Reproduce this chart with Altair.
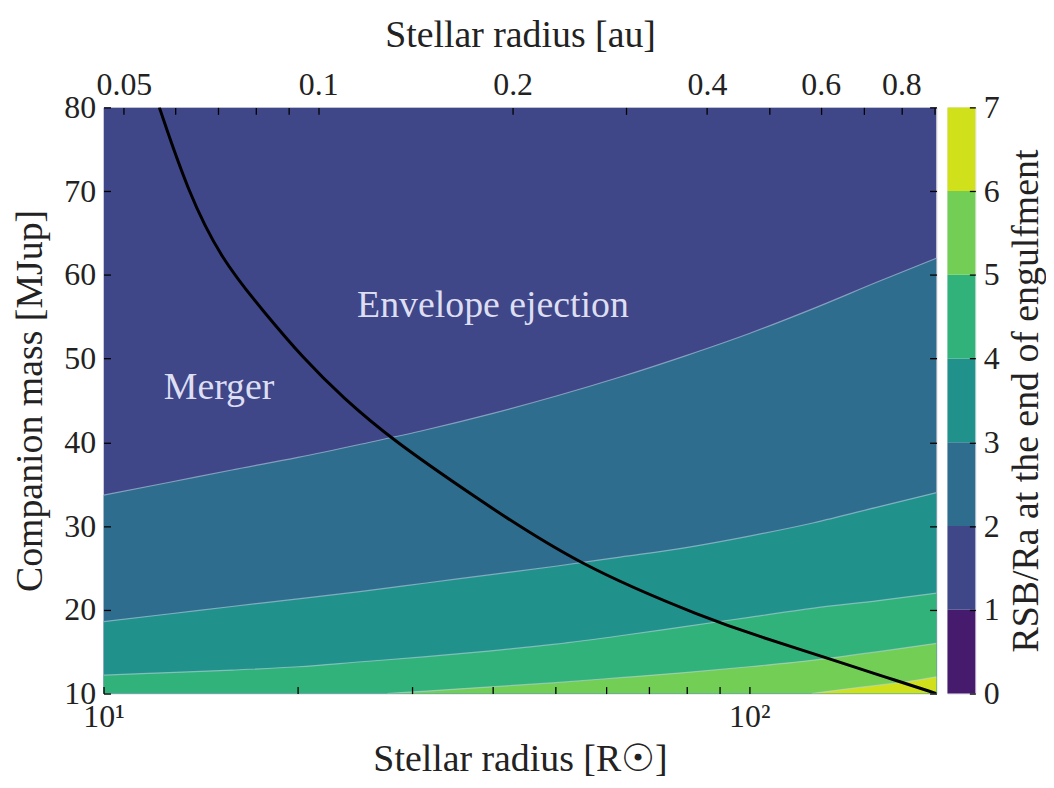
import altair as alt
import pandas as pd

AU_IN_RSUN = 215.032
X_DOMAIN = [10, 195]
Y_DOMAIN = [10, 80]
FONT = "Liberation Serif"
TXT = "#222222"

level_colors = ["#461a6c", "#3f4788", "#2f6d8e", "#21918c", "#31b27b", "#72ce55", "#d0e11c"]
levels_lo = [0, 1, 2, 3, 4, 5, 6]
levels_hi = [1, 2, 3, 4, 5, 6, 7]

# contour boundaries (R in R_sun, M in M_Jup)
top_R = [10, 195]
top_M = [80, 80]

b2_R = [10, 12.6, 15.8, 20, 25.1, 31.6, 39.8, 50.1, 63.1, 79.4, 100, 125.9, 158.5, 195]
b2_M = [33.7, 35.2, 36.7, 38.2, 39.8, 41.5, 43.4, 45.5, 47.8, 50.3, 53.0, 56.0, 59.2, 62.0]

b3_R = [10, 12.6, 15.8, 20, 25.1, 31.6, 39.8, 50.1, 63.1, 79.4, 100, 125.9, 158.5, 195]
b3_M = [18.6, 19.5, 20.4, 21.3, 22.2, 23.2, 24.2, 25.2, 26.3, 27.4, 28.8, 30.4, 32.3, 34.0]

b4_R = [10, 12.6, 15.8, 20, 25.1, 31.6, 39.8, 50.1, 63.1, 79.4, 100, 125.9, 158.5, 195]
b4_M = [12.2, 12.5, 12.8, 13.2, 13.8, 14.4, 15.1, 15.9, 16.9, 18.0, 19.1, 20.2, 21.1, 22.0]

b5_R = [27.5, 31.6, 39.8, 50.1, 63.1, 79.4, 100, 125.9, 158.5, 195]
b5_M = [10.0, 10.3, 10.8, 11.3, 11.9, 12.5, 13.2, 14.0, 15.0, 16.0]

b6_R = [125, 140, 158.5, 178, 195]
b6_M = [10.0, 10.5, 11.0, 11.5, 12.0]

curve_R = [12.2, 13.5, 15.2, 17.7, 20.4, 23.5, 28.0, 37.2, 54.3, 87, 102, 140, 162, 195]
curve_M = [80, 70.0, 61.9, 55.6, 50.0, 45.3, 40.3, 33.7, 25.3, 18.8, 17.0, 13.6, 12.0, 10.0]

label_text = ["Merger", "Envelope ejection"]
label_R = [15.1, 40.1]
label_M = [46.5, 56.3]

y_ticks = [10, 20, 30, 40, 50, 60, 70, 80]
x_ticks = [10, 20, 30, 40, 50, 60, 70, 80, 90, 100]
au_ticks = [0.05, 0.06, 0.07, 0.08, 0.09, 0.1, 0.2, 0.3, 0.4, 0.5, 0.6, 0.7, 0.8, 0.9]
au_labeled = [0.05, 0.1, 0.2, 0.4, 0.6, 0.8]
cb_ticks = [0, 1, 2, 3, 4, 5, 6, 7]

W, H = 837, 589

xscale = alt.Scale(type="log", domain=X_DOMAIN, nice=False)
yscale = alt.Scale(domain=Y_DOMAIN, nice=False, zero=False)
auscale = alt.Scale(type="log", domain=[X_DOMAIN[0] / AU_IN_RSUN, X_DOMAIN[1] / AU_IN_RSUN], nice=False)

common_axis = dict(grid=False, domain=False, zindex=1, tickColor="black", tickWidth=1.3,
                   labelFont=FONT, titleFont=FONT, labelColor=TXT, titleColor=TXT,
                   labelFontSize=32, titleFontSize=38, titleFontWeight="normal",
                   labelOverlap=False, labelFlush=False)

bottom_axis = alt.Axis(orient="bottom", values=x_ticks, offset=-7, tickSize=7, labelPadding=8,
                       labelExpr="datum.value == 10 ? '10¹' : (datum.value == 100 ? '10²' : '')",
                       title="Stellar radius [R☉]", titlePadding=8, **common_axis)
left_axis = alt.Axis(orient="left", values=y_ticks, offset=-7, tickSize=7, labelPadding=8,
                     title="Companion mass [MJup]", titlePadding=14, **common_axis)
top_axis = alt.Axis(orient="top", values=au_ticks, offset=-7, tickSize=7, labelPadding=6,
                    labelExpr="indexof(" + str(au_labeled) + ", datum.value) >= 0 ? format(datum.value, '~g') : ''",
                    title="Stellar radius [au]", titlePadding=14, **common_axis)
right_axis = alt.Axis(orient="right", values=y_ticks, offset=-7, tickSize=7, labels=False,
                      title=None, **common_axis)


def frame(R, M):
    return pd.DataFrame({"R": R, "M": M, "base": [Y_DOMAIN[0]] * len(R)})


def band(R, M, color, axes=False):
    return alt.Chart(frame(R, M)).mark_area(color=color, interpolate="monotone", clip=True).encode(
        x=alt.X("R:Q", scale=xscale, axis=bottom_axis if axes else None),
        y=alt.Y("M:Q", scale=yscale, axis=left_axis if axes else None),
        y2="base:Q",
    )


def edge(R, M):
    return alt.Chart(frame(R, M)).mark_line(color="#c9d6ea", strokeWidth=1.2, opacity=0.55,
                                            interpolate="monotone", clip=True).encode(
        x=alt.X("R:Q", scale=xscale, axis=None),
        y=alt.Y("M:Q", scale=yscale, axis=None),
    )


layers = [
    band(top_R, top_M, level_colors[1], axes=True),
    band(b2_R, b2_M, level_colors[2]),
    band(b3_R, b3_M, level_colors[3]),
    band(b4_R, b4_M, level_colors[4]),
    band(b5_R, b5_M, level_colors[5]),
    band(b6_R, b6_M, level_colors[6]),
    edge(b2_R, b2_M), edge(b3_R, b3_M), edge(b4_R, b4_M), edge(b5_R, b5_M), edge(b6_R, b6_M),
]

curve = alt.Chart(pd.DataFrame({"R": curve_R, "M": curve_M})).mark_line(
    color="black", strokeWidth=3, interpolate="basis", clip=True).encode(
    x=alt.X("R:Q", scale=xscale, axis=None),
    y=alt.Y("M:Q", scale=yscale, axis=None),
)

labels = alt.Chart(pd.DataFrame({"R": label_R, "M": label_M, "t": label_text})).mark_text(
    font=FONT, fontSize=38, color="#dedef2").encode(
    x=alt.X("R:Q", scale=xscale, axis=None),
    y=alt.Y("M:Q", scale=yscale, axis=None),
    text="t:N",
)

au_layer = alt.Chart(pd.DataFrame({"au": au_ticks, "M": [Y_DOMAIN[0]] * len(au_ticks)})).mark_point(
    opacity=0).encode(
    x=alt.X("au:Q", scale=auscale, axis=top_axis),
    y=alt.Y("M:Q", scale=yscale, axis=right_axis),
)

main = alt.layer(*layers, curve, labels, au_layer).resolve_scale(x="independent").resolve_axis(
    x="independent", y="independent").properties(width=W, height=H)

cb_axis = alt.Axis(orient="right", values=cb_ticks, offset=-6, tickSize=6, labelPadding=8,
                   title="RSB/Ra at the end of engulfment", titleAngle=270, titleBaseline="top",
                   titlePadding=8, format="d", **common_axis)

colorbar = alt.Chart(pd.DataFrame({"lo": levels_lo, "hi": levels_hi})).mark_rect().encode(
    y=alt.Y("lo:Q", scale=alt.Scale(domain=[0, 7], nice=False, zero=False), axis=cb_axis),
    y2="hi:Q",
    color=alt.Color("lo:O", scale=alt.Scale(domain=levels_lo, range=level_colors), legend=None),
).properties(width=28, height=H)

chart = alt.hconcat(main, colorbar, spacing=8).configure_view(
    stroke="black", strokeWidth=1.5).configure(padding={"left": 3, "top": 6, "right": 0, "bottom": 0},
                                               background="white")

chart.save("out.html", embed_options={"renderer": "svg", "actions": False})
